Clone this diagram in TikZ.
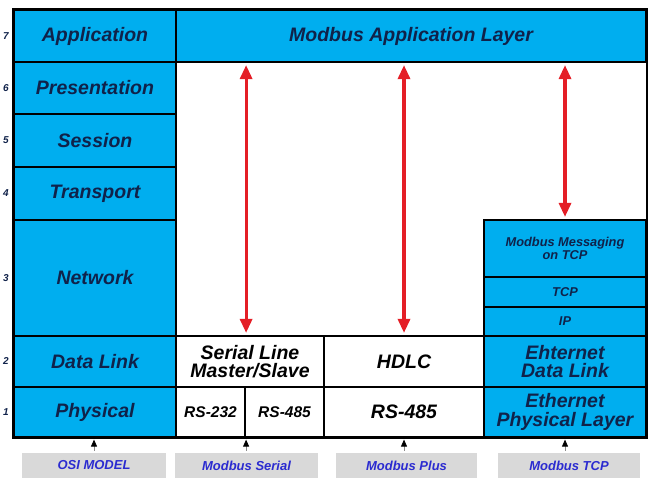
\documentclass[tikz,border=0pt]{standalone}
\usepackage{fontspec}
\setmainfont{Liberation Sans}
\usetikzlibrary{arrows.meta,positioning,calc}

\definecolor{layerblue}{HTML}{00AEEF}
\definecolor{inkblue}{HTML}{10224A}
\definecolor{tagblue}{HTML}{2B2BD0}
\definecolor{taggray}{HTML}{D9D9D9}
\definecolor{linkred}{HTML}{E41E26}

\begin{document}
\begin{tikzpicture}[
    x=1pt, y=-1pt,
    layer/.style={rectangle, draw=black, line width=2.2pt, fill=layerblue, inner sep=0pt, align=center, text=inkblue, font=\fontsize{19.5}{18.5}\selectfont\bfseries\itshape},
    plain/.style={layer, fill=white, text=black},
    small/.style={font=\fontsize{12.8}{13.5}\selectfont\bfseries\itshape},
    num/.style={font=\fontsize{10}{11}\selectfont\bfseries\itshape, text=inkblue, inner sep=0pt},
    tag/.style={rectangle, fill=taggray, inner sep=0pt, minimum height=25pt, text=tagblue, font=\fontsize{13}{14}\selectfont\bfseries\itshape},
    link/.style={{Triangle[length=14pt,width=12pt]}-{Triangle[length=14pt,width=12pt]}, line width=3.2pt, draw=linkred, shorten >=2pt, shorten <=2pt},
    feed/.style={-{Triangle[length=7pt,width=6pt,black]}, line width=0.8pt, draw=black!45, shorten >=1.5pt, shorten <=2pt}
]
\useasboundingbox (0,0) rectangle (652,478);

% OSI model column
\node[layer, minimum width=162pt, minimum height=52pt] (app) at (95,36) {Application};
\node[layer, minimum width=162pt, minimum height=52pt] (pres) at (95,88) {Presentation};
\node[layer, minimum width=162pt, minimum height=53pt] (sess) at (95,140.5) {Session};
\node[layer, minimum width=162pt, minimum height=53pt] (trans) at (95,193.5) {Transport};
\node[layer, minimum width=162pt, minimum height=116pt] (net) at (95,278) {Network};
\node[layer, minimum width=162pt, minimum height=51pt] (dlink) at (95,361.5) {Data Link};
\node[layer, minimum width=162pt, minimum height=50pt] (phys) at (95,412) {Physical};

% layer numbers
\node[num, left=4pt of app.west] (num7) {7};
\node[num, left=4pt of pres.west] (num6) {6};
\node[num, left=4pt of sess.west] (num5) {5};
\node[num, left=4pt of trans.west] (num4) {4};
\node[num, left=4pt of net.west] (num3) {3};
\node[num, left=4pt of dlink.west] (num2) {2};
\node[num, left=4pt of phys.west] (num1) {1};

% Modbus application layer
\node[layer, minimum width=470pt, minimum height=52pt] (modapp) at (411,36) {Modbus Application Layer};

% Modbus serial
\node[plain, minimum width=148pt, minimum height=51pt] (serial) at (250,361.5) {Serial Line\\Master/Slave};
\node[plain, minimum width=69pt, minimum height=50pt, font=\fontsize{15.5}{16}\selectfont\bfseries\itshape] (rsa) at (210.5,412) {RS-232};
\node[plain, minimum width=79pt, minimum height=50pt, font=\fontsize{15.5}{16}\selectfont\bfseries\itshape] (rsb) at (284.5,412) {RS-485};

% Modbus plus
\node[plain, minimum width=160pt, minimum height=51pt] (hdlc) at (404,361.5) {HDLC};
\node[plain, minimum width=160pt, minimum height=50pt] (rsc) at (404,412) {RS-485};

% Modbus TCP
\node[layer, small, minimum width=162pt, minimum height=57pt] (msg) at (565,248.5) {Modbus Messaging\\on TCP};
\node[layer, small, minimum width=162pt, minimum height=30pt] (tcp) at (565,292) {TCP};
\node[layer, small, minimum width=162pt, minimum height=29pt] (ip) at (565,321.5) {IP};
\node[layer, minimum width=162pt, minimum height=51pt] (ethdl) at (565,361.5) {Ehternet\\Data Link};
\node[layer, minimum width=162pt, minimum height=50pt] (ethph) at (565,412) {Ethernet\\Physical Layer};

% outer frame round the whole stack
\draw[line width=2.2pt] (app.north west) rectangle (ethph.south east);

% peer links up to the application layer
\draw[link] (serial.north -| rsa.east) -- (modapp.south -| rsa.east);
\draw[link] (hdlc.north) -- (modapp.south -| hdlc.north);
\draw[link] (msg.north) -- (modapp.south -| msg.north);

% stack labels
\node[tag, minimum width=144pt] (osi) at (94,465.5) {OSI MODEL};
\node[tag, minimum width=143pt] (serlbl) at (246.5,465.5) {Modbus Serial};
\node[tag, minimum width=141pt] (pluslbl) at (406.5,465.5) {Modbus Plus};
\node[tag, minimum width=142pt] (tcplbl) at (569,465.5) {Modbus TCP};

\draw[feed] (osi.north) -- (osi.north |- phys.south);
\draw[feed] (serlbl.north -| rsa.east) -- (rsa.south east);
\draw[feed] (pluslbl.north -| rsc.south) -- (rsc.south);
\draw[feed] (tcplbl.north -| ethph.south) -- (ethph.south);
\end{tikzpicture}
\end{document}
